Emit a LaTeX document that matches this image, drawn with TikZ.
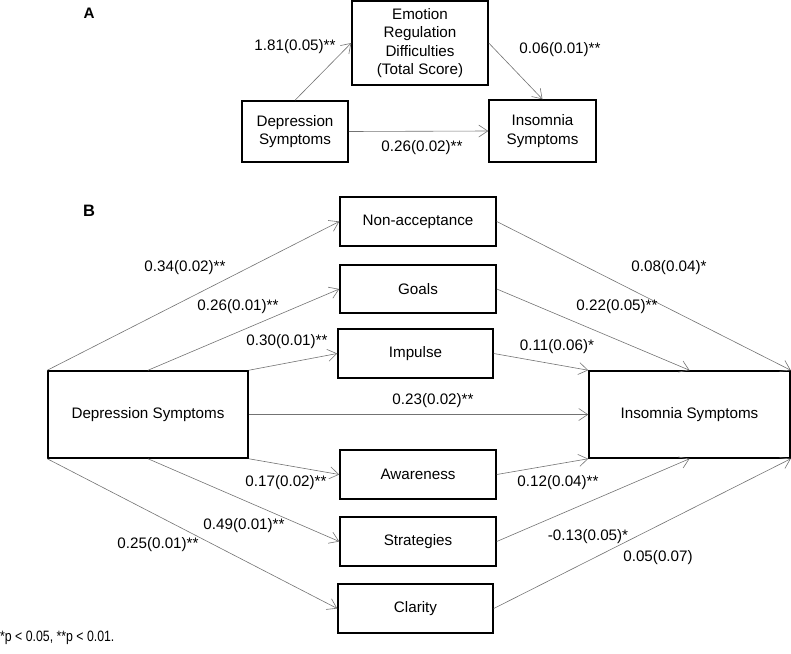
\documentclass[tikz,border=0pt]{standalone}
\usepackage{fontspec}
\setmainfont{Liberation Sans}
\newfontfamily\narrowfont{Liberation Sans}[FakeStretch=0.82]
\usetikzlibrary{arrows.meta}
\tikzset{
  box/.style={draw, line width=1.5pt, inner sep=0pt, align=center},
  link/.style={draw=black!55, line width=0.6pt, -{Straight Barb[length=9pt,width=12pt]}},
  coef/.style={inner sep=0pt}
}
\begin{document}
\begin{tikzpicture}[x=1pt,y=-1pt,font=\fontsize{15.2}{18.6}\selectfont]
\useasboundingbox (0,0) rectangle (791,653);

\node[font=\fontsize{15.2}{18}\selectfont\bfseries] (labA) at (89,13) {A};
\node[box, minimum width=136pt, minimum height=84pt] (emoA) at (420,43) {Emotion\\ Regulation\\ Difficulties\\ (Total Score)};
\node[box, minimum width=106pt, minimum height=61pt] (depA) at (295,131.5) {Depression\\ Symptoms};
\node[box, minimum width=107pt, minimum height=62pt] (insA) at (542.5,131) {Insomnia\\ Symptoms};

\draw[link] (depA.north) -- (emoA.west);
\draw[link] (emoA.east) -- (insA.north);
\draw[link] (depA.east) -- (insA.west);

\node[coef] (cA1) at (295,47) {1.81(0.05)**};
\node[coef] (cA2) at (560,50) {0.06(0.01)**};
\node[coef] (cA3) at (422,148) {0.26(0.02)**};

\node[font=\fontsize{16.5}{18}\selectfont\bfseries] (labB) at (89,211) {B};
\node[box, minimum width=200pt, minimum height=87pt] (depB) at (148,414.5) {Depression Symptoms};
\node[box, minimum width=201pt, minimum height=87pt] (insB) at (689.5,414.5) {Insomnia Symptoms};

\node[box, minimum width=156pt, minimum height=49pt] (nona) at (418,221.5) {Non-acceptance};
\node[box, minimum width=156pt, minimum height=48pt] (goal) at (418,289) {Goals};
\node[box, minimum width=155pt, minimum height=49pt] (impu) at (415.5,353.5) {Impulse};
\node[box, minimum width=156pt, minimum height=49pt] (awar) at (418,474.5) {Awareness};
\node[box, minimum width=156pt, minimum height=49pt] (stra) at (418,541.5) {Strategies};
\node[box, minimum width=155pt, minimum height=49pt] (clar) at (415.5,608.5) {Clarity};

\draw[link] (depB.north west) -- (nona.west);
\draw[link] (depB.north) -- (goal.west);
\draw[link] (depB.north east) -- (impu.west);
\draw[link] (depB.east) -- (insB.west);
\draw[link] (depB.south east) -- (awar.west);
\draw[link] (depB.south) -- (stra.west);
\draw[link] (depB.south west) -- (clar.west);

\draw[link] (nona.east) -- (insB.north east);
\draw[link] (goal.east) -- (insB.north);
\draw[link] (impu.east) -- (insB.north west);
\draw[link] (awar.east) -- (insB.south west);
\draw[link] (stra.east) -- (insB.south);
\draw[link] (clar.east) -- (insB.south east);

\node[coef] (cB1) at (185,268) {0.34(0.02)**};
\node[coef] (cB2) at (238,307) {0.26(0.01)**};
\node[coef] (cB3) at (287,342) {0.30(0.01)**};
\node[coef] (cB4) at (433,401) {0.23(0.02)**};
\node[coef] (cB5) at (286,483) {0.17(0.02)**};
\node[coef] (cB6) at (244,526) {0.49(0.01)**};
\node[coef] (cB7) at (158,545) {0.25(0.01)**};
\node[coef] (cB8) at (669,268) {0.08(0.04)*};
\node[coef] (cB9) at (617,307) {0.22(0.05)**};
\node[coef] (cB10) at (557,347) {0.11(0.06)*};
\node[coef] (cB11) at (558,483) {0.12(0.04)**};
\node[coef] (cB12) at (588,537) {-0.13(0.05)*};
\node[coef] (cB13) at (658,558) {0.05(0.07)};

\node[coef, anchor=west, font=\narrowfont\fontsize{15}{18}\selectfont] (note) at (0,638) {*p < 0.05, **p < 0.01.};
\end{tikzpicture}
\end{document}
